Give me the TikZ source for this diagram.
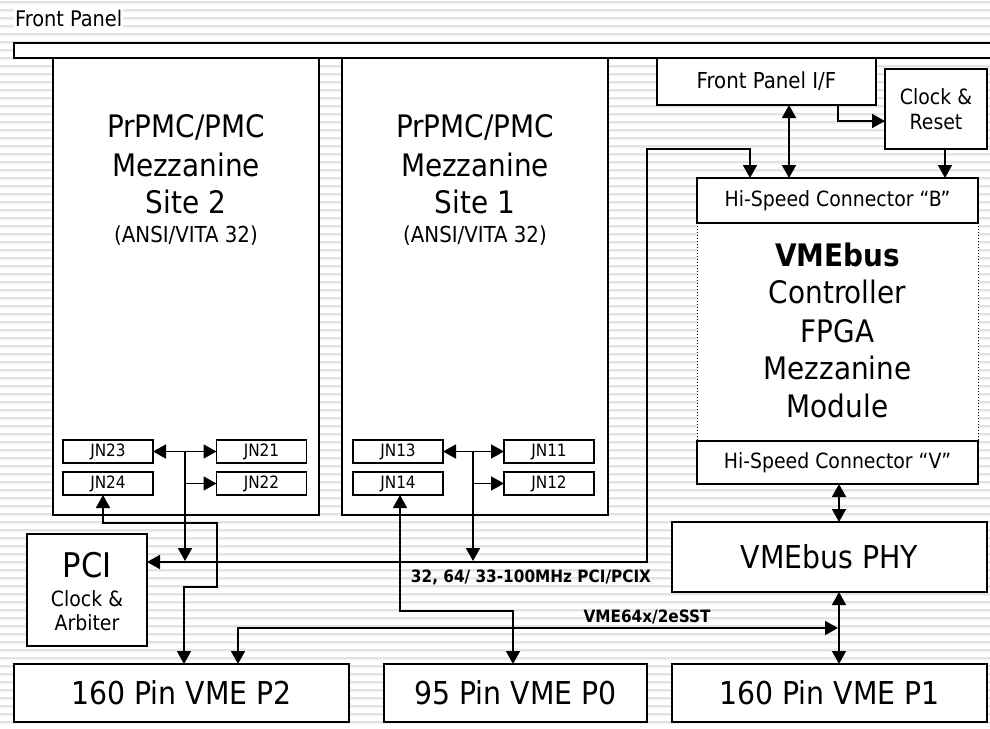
\documentclass[tikz,border=0pt]{standalone}
\usepackage{fontspec}
\setmainfont{DejaVu Sans Condensed}
\usetikzlibrary{arrows.meta}
\newcommand{\fs}[1]{\fontsize{#1}{#1}\selectfont}
\begin{document}
\begin{tikzpicture}[x=1pt,y=-1pt,
  box/.style={draw=black, line width=1.8pt, fill=white, inner sep=0pt, outer sep=0pt},
  dotbox/.style={draw=black, line width=1pt, dotted, fill=white, inner sep=0pt, outer sep=0pt},
  tip/.tip={Triangle[length=13pt,width=14pt]},
  con/.style={line width=1.8pt, -tip},
  dbl/.style={line width=1.8pt, tip-tip},
  txt/.style={inner sep=0pt, anchor=base},
  big/.style={txt, font=\fs{31}},
  lbl/.style={inner sep=0pt, font=\bfseries\fs{17}}]
\useasboundingbox (0,0) rectangle (990,728);
\fill[white] (0,0) rectangle (990,728);
\foreach \yy in {0,8,...,728} {
  \draw[line width=2pt, black!11] (0,{\yy+1.5}) -- (990,{\yy+1.5});
  \draw[line width=1pt, black!5] (0,{\yy+3.6}) -- (990,{\yy+3.6});
}
% front panel label
\node[fill=white, anchor=west, inner xsep=1pt, inner ysep=3pt, font=\fs{21.5}] (fplabel) at (14,18) {Front Panel};
% boxes
\begin{scope}
\clip (0,0) rectangle (990,728);
\node[box, minimum width=982, minimum height=15] (bar) at (505,50.5) {};
\end{scope}
\node[box, minimum width=266, minimum height=457] (site2) at (186,286.5) {};
\node[box, minimum width=266, minimum height=457] (site1) at (475,286.5) {};
\node[box, minimum width=219, minimum height=47, font=\fs{22}] (fpif) at (766.5,81.5) {Front Panel I/F};
\node[box, minimum width=102, minimum height=80, align=center, font=\fontsize{21}{25}\selectfont] (clk) at (936,109) {Clock \&\\Reset};
\node[dotbox, minimum width=281, minimum height=218] (fpga) at (837.5,332) {};
\node[box, minimum width=281, minimum height=45, font=\fs{21}] (hsb) at (837.5,200.5) {Hi-Speed Connector “B”};
\node[box, minimum width=281, minimum height=43, font=\fs{21}] (hsv) at (837.5,462.5) {Hi-Speed Connector “V”};
\node[box, minimum width=315, minimum height=70, font=\fs{31.5}] (phy) at (829.5,557) {VMEbus PHY};
\node[box, minimum width=120, minimum height=112] (pci) at (87,590) {};
\node[box, minimum width=335, minimum height=58, font=\fs{31.5}] (p2) at (181.5,693) {160 Pin VME P2};
\node[box, minimum width=263, minimum height=58, font=\fs{31.5}] (p0) at (515.5,693) {95 Pin VME P0};
\node[box, minimum width=315, minimum height=58, font=\fs{31.5}] (p1) at (829.5,693) {160 Pin VME P1};
% JN boxes
\begin{scope}[every node/.style={box, minimum width=90, minimum height=23, font=\fs{17}}]
\node (jn23) at (108,451.5) {JN23};
\node (jn24) at (108,483.5) {JN24};
\node (jn21) at (261.5,451.5) {JN21};
\node (jn22) at (261.5,483.5) {JN22};
\node (jn13) at (398,451.5) {JN13};
\node (jn14) at (398,483.5) {JN14};
\node (jn11) at (549,451.5) {JN11};
\node (jn12) at (549,483.5) {JN12};
\end{scope}
% site texts
\node[big] (s2a) at (186,137) {PrPMC/PMC};
\node[big] (s2b) at (186,176) {Mezzanine};
\node[big] (s2c) at (186,213) {Site 2};
\node[txt, font=\fs{22}] (s2d) at (186,242) {(ANSI/VITA 32)};
\node[big] (s1a) at (475,137) {PrPMC/PMC};
\node[big] (s1b) at (475,176) {Mezzanine};
\node[big] (s1c) at (475,213) {Site 1};
\node[txt, font=\fs{22}] (s1d) at (475,242) {(ANSI/VITA 32)};
% fpga texts
\node[big, font=\bfseries\fs{31}] (fa) at (837.5,266) {VMEbus};
\node[big] (fb) at (837.5,303) {Controller};
\node[big] (fc) at (837.5,342) {FPGA};
\node[big] (fd) at (837.5,379) {Mezzanine};
\node[big] (fe) at (837.5,417) {Module};
% pci texts
\node[txt, font=\fs{34}] (pa) at (87,577) {PCI};
\node[txt, font=\fs{21}] (pb) at (87,606) {Clock \&};
\node[txt, font=\fs{21}] (pc) at (87,630) {Arbiter};
% connectors top right
\draw[dbl] (789,0 |- fpif.south) -- (789,0 |- hsb.north);
\draw[con] (838,0 |- fpif.south) |- (clk.west |- 0,121);
\draw[con] (945,0 |- clk.south) -- (945,0 |- hsb.north);
\draw[dbl] (750,0 |- hsb.north) -- (750,149) -- (647,149) -- (647,562) -- (pci.east |- 0,562);
% site 2 connectors
\draw[dbl] (jn23.east) -- (jn21.west);
\draw[con] (185,0 |- jn21.west) -- (185,561);
\draw[con] (185,0 |- jn22.west) -- (jn22.west);
\draw[dbl] (103,0 |- jn24.south) -- (103,523) -- (217,523) -- (217,587) -- (184,587) -- (184,0 |- p2.north);
% site 1 connectors
\draw[dbl] (jn13.east) -- (jn11.west);
\draw[con] (473,0 |- jn11.west) -- (473,561);
\draw[con] (473,0 |- jn12.west) -- (jn12.west);
\draw[dbl] (400,0 |- jn14.south) -- (400,611) -- (513,611) -- (513,0 |- p0.north);
% vme side
\coordinate (vbus) at (838,628);
\draw[dbl] (839,0 |- hsv.south) -- (839,0 |- phy.north);
\draw[dbl] (839,0 |- phy.south) -- (839,0 |- p1.north);
\draw[dbl] (238,0 |- p2.north) -- (238,628) -- (vbus);
% labels
\node[lbl] (pcilbl) at (531,577) {32, 64/ 33-100MHz PCI/PCIX};
\node[lbl] (vmelbl) at (647,617) {VME64x/2eSST};
\end{tikzpicture}
\end{document}
